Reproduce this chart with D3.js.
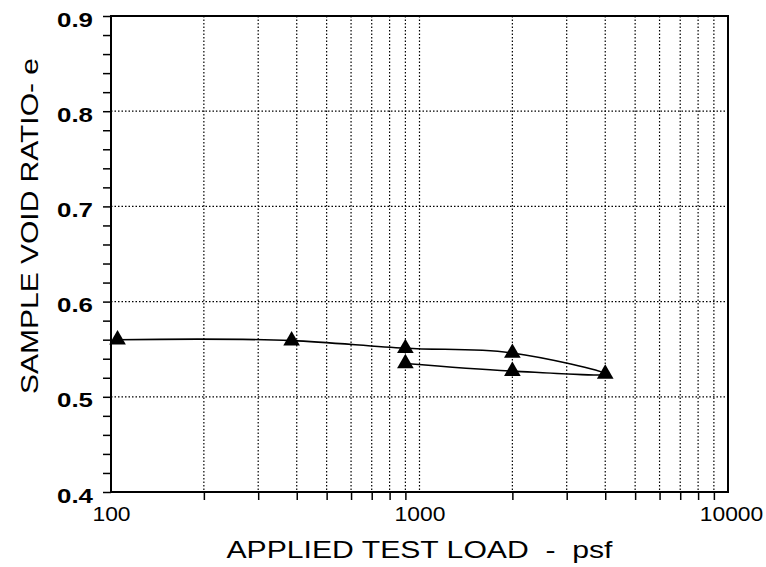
<!DOCTYPE html>
<html>
<head>
<meta charset="utf-8">
<script src="https://cdn.jsdelivr.net/npm/d3@7"></script>
<style>
  body { margin: 0; background: #fff; }
  svg { display: block; }
</style>
</head>
<body>
<div id="container"></div>
<script>
// load sequence (psf) and measured void ratio, in test order
const loads = [105, 385, 900, 2000, 4000, 2000, 900];
const voidRatio = [0.560, 0.559, 0.551, 0.546, 0.524, 0.527, 0.535];
const yTickLabels = [0.4, 0.5, 0.6, 0.7, 0.8, 0.9];
const xTickLabels = [100, 1000, 10000];

const W = 766, H = 567;
const margin = { top: 16, right: 38, bottom: 75, left: 111 };
const width = W - margin.left - margin.right;
const height = H - margin.top - margin.bottom;

const svg = d3.select('#container').append('svg')
    .attr('width', W)
    .attr('height', H)
    .style('font-family', '"Liberation Sans", Arial, sans-serif');

const g = svg.append('g')
    .attr('transform', `translate(${margin.left},${margin.top})`);

const x = d3.scaleLog().domain([100, 10000]).range([0, width]);
const y = d3.scaleLinear().domain([0.4, 0.9]).range([height, 0]);

// every log subdivision 200..900, 2000..9000 plus decades
const xAll = x.ticks();

// grid
g.append('g')
    .selectAll('line')
    .data(xAll.filter(d => d > 100 && d < 10000))
    .join('line')
    .attr('x1', d => x(d)).attr('x2', d => x(d))
    .attr('y1', 0).attr('y2', height)
    .attr('stroke', '#000')
    .attr('stroke-width', 1.2)
    .attr('stroke-dasharray', '1.5,2');

g.append('g')
    .selectAll('line')
    .data(yTickLabels.filter(d => d > 0.4 && d < 0.9))
    .join('line')
    .attr('x1', 0).attr('x2', width)
    .attr('y1', d => y(d)).attr('y2', d => y(d))
    .attr('stroke', '#000')
    .attr('stroke-width', 1.2)
    .attr('stroke-dasharray', '1.5,2');

// frame
g.append('rect')
    .attr('width', width)
    .attr('height', height)
    .attr('fill', 'none')
    .attr('stroke', '#000')
    .attr('stroke-width', 2);

// y axis: minor ticks every 0.02
const yAxis = g.append('g')
    .call(d3.axisLeft(y)
        .tickValues(d3.range(0, 26).map(i => 0.4 + i * 0.02))
        .tickSize(8)
        .tickPadding(10)
        .tickFormat(d => yTickLabels.some(v => Math.abs(v - d) < 1e-6) ? d3.format('.1f')(d) : ''));
yAxis.select('.domain').remove();
yAxis.selectAll('line').attr('stroke-width', 1.5);
yAxis.selectAll('text')
    .filter(function () { return this.textContent !== ''; })
    .attr('font-size', 20)
    .attr('font-weight', 'bold')
    .attr('dy', '0.5em')
    .attr('textLength', 36)
    .attr('lengthAdjust', 'spacingAndGlyphs');

// x axis
const xAxis = g.append('g')
    .attr('transform', `translate(0,${height})`)
    .call(d3.axisBottom(x)
        .tickValues(xAll)
        .tickSize(8)
        .tickFormat(d => xTickLabels.includes(d) ? String(d) : ''));
xAxis.select('.domain').remove();
xAxis.selectAll('line')
    .attr('stroke-width', 1.5)
    .attr('y2', d => xTickLabels.includes(d) ? 0 : 8);
xAxis.selectAll('text')
    .filter(d => xTickLabels.includes(d))
    .attr('font-size', 20)
    .attr('y', 15)
    .attr('dy', '0.71em')
    .attr('textLength', d => String(d).length * 12.7)
    .attr('lengthAdjust', 'spacingAndGlyphs');
xAxis.selectAll('text').filter(d => d === 10000).attr('dx', '3');

// curve through the test sequence
const pts = loads.map((d, i) => [d, voidRatio[i]]);
const line = d3.line()
    .x(d => x(d[0]))
    .y(d => y(d[1]))
    .curve(d3.curveCatmullRom.alpha(1));

g.append('path')
    .datum(pts)
    .attr('d', line)
    .attr('fill', 'none')
    .attr('stroke', '#000')
    .attr('stroke-width', 1.6);

g.append('g')
    .selectAll('path')
    .data(pts)
    .join('path')
    .attr('transform', d => `translate(${x(d[0])},${y(d[1])})`)
    .attr('d', d3.symbol(d3.symbolTriangle, 120))
    .attr('fill', '#000');

// axis titles
svg.append('text')
    .attr('x', margin.left + width / 2)
    .attr('y', 558)
    .attr('text-anchor', 'middle')
    .attr('font-size', 24)
    .attr('textLength', 386)
    .attr('lengthAdjust', 'spacingAndGlyphs')
    .style('white-space', 'pre')
    .text('APPLIED TEST LOAD  -  psf');

svg.append('text')
    .attr('transform', `translate(38,226) rotate(-90)`)
    .attr('text-anchor', 'middle')
    .attr('font-size', 24)
    .attr('textLength', 336)
    .attr('lengthAdjust', 'spacingAndGlyphs')
    .text('SAMPLE VOID RATIO- e');
</script>
</body>
</html>
